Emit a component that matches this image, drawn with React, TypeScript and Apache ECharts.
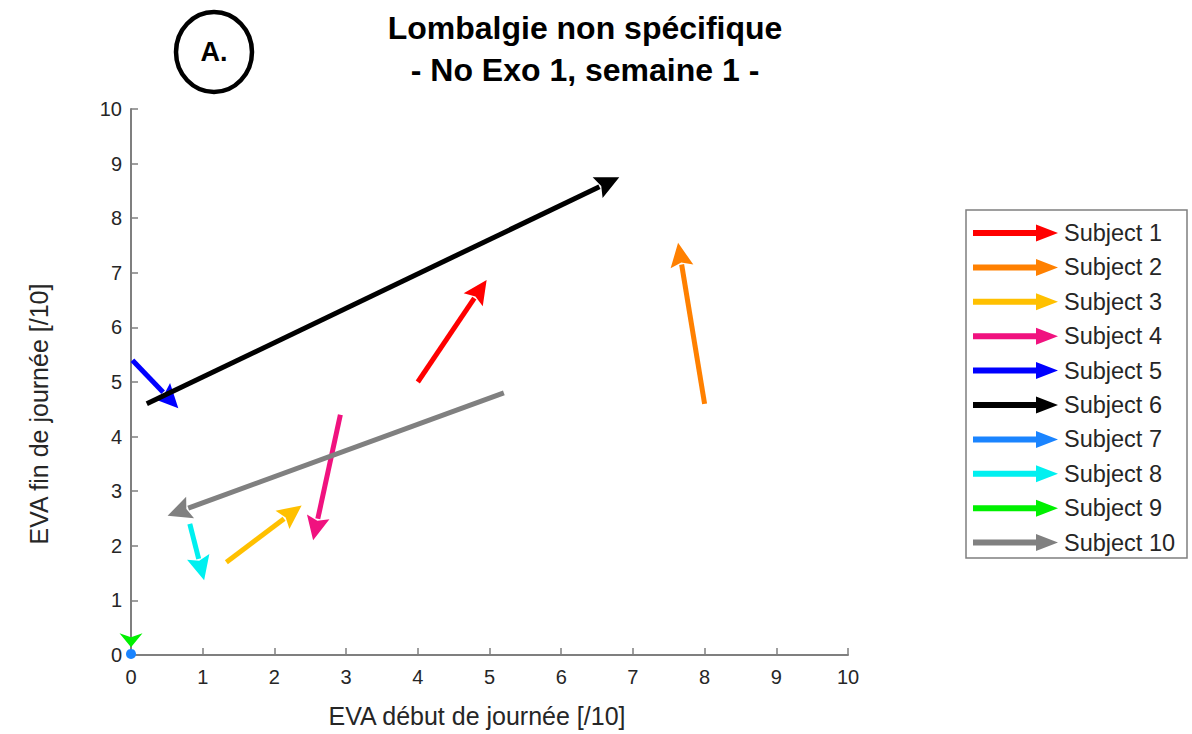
import React, { useEffect, useRef } from "react";
import * as echarts from "echarts";

const subjects = [
  "Subject 1", "Subject 2", "Subject 3", "Subject 4", "Subject 5",
  "Subject 6", "Subject 7", "Subject 8", "Subject 9", "Subject 10",
];
const colors = [
  "#ff0000", "#ff8000", "#ffc000", "#f0127f", "#0000ff",
  "#000000", "#1a84ff", "#00f0f0", "#00f000", "#808080",
];
// EVA start of day (x) / end of day (y): arrow from start point to end point
const startX = [4.0, 8.0, 1.33, 2.92, 0.02, 0.22, 0, 0.82, 0, 5.2];
const startY = [5.0, 4.6, 1.7, 4.4, 5.4, 4.6, 0.02, 2.4, 0.4, 4.8];
const endX = [4.96, 7.63, 2.38, 2.54, 0.66, 6.81, 0, 1.02, 0, 0.51];
const endY = [6.87, 7.55, 2.74, 2.1, 4.52, 8.75, 0.02, 1.37, 0.14, 2.55];
const xTicks = [0, 10, 1];
const titleLines = ["Lombalgie non spécifique", "- No Exo 1, semaine 1 -"];
const xName = "EVA début de journée [/10]";
const yName = "EVA fin de journée [/10]";
const panelLabel = "A.";

const FONT = "Liberation Sans, Arial, Helvetica, sans-serif";

function renderArrow(params: any, api: any) {
  const p1 = api.coord([api.value(0), api.value(1)]);
  const p2 = api.coord([api.value(2), api.value(3)]);
  const color = api.visual("color");
  const dx = p2[0] - p1[0];
  const dy = p2[1] - p1[1];
  const len = Math.sqrt(dx * dx + dy * dy);
  if (len < 1) {
    return {
      type: "circle",
      shape: { cx: p2[0], cy: p2[1], r: 5 },
      style: { fill: color },
    };
  }
  const ux = dx / len;
  const uy = dy / len;
  const headLen = Math.min(24, len);
  const hw = 11.5;
  const bx = p2[0] - ux * headLen;
  const by = p2[1] - uy * headLen;
  const px = -uy;
  const py = ux;
  const children: any[] = [];
  if (len > headLen) {
    children.push({
      type: "line",
      shape: { x1: p1[0], y1: p1[1], x2: bx + ux * 2, y2: by + uy * 2 },
      style: { stroke: color, lineWidth: 5, lineCap: "butt" },
    });
  }
  children.push({
    type: "polygon",
    shape: {
      points: [
        [p2[0], p2[1]],
        [bx + px * hw, by + py * hw],
        [bx + ux * 4, by + uy * 4],
        [bx - px * hw, by - py * hw],
      ],
    },
    style: { fill: color },
  });
  return { type: "group", children };
}

export default function App() {
  const ref = useRef<HTMLDivElement>(null);
  useEffect(() => {
    if (!ref.current) return;
    document.body.style.margin = "0";
    const chart = echarts.init(ref.current, null, { renderer: "svg" });
    const axisCommon = {
      type: "value" as const,
      min: xTicks[0],
      max: xTicks[1],
      interval: xTicks[2],
      axisLine: { show: true, lineStyle: { color: "#7f7f7f", width: 2 } },
      axisTick: { show: true, inside: true, length: 7, lineStyle: { color: "#7f7f7f", width: 1.5 } },
      splitLine: { show: false },
      axisLabel: { color: "#262626", fontSize: 20, fontFamily: FONT },
    };
    chart.setOption({
      animation: false,
      backgroundColor: "#ffffff",
      title: {
        text: titleLines.join("\n"),
        left: 580,
        top: 2,
        textAlign: "center",
        textStyle: { fontSize: 32, fontWeight: "bold", color: "#000", fontFamily: FONT, lineHeight: 42 },
      },
      grid: { left: 131, right: 344, top: 109, bottom: 79 },
      xAxis: {
        ...axisCommon,
        axisLabel: { ...axisCommon.axisLabel, margin: 12 },
      },
      yAxis: {
        ...axisCommon,
        axisLabel: { ...axisCommon.axisLabel, margin: 9 },
      },
      legend: {
        orient: "vertical",
        left: 968,
        top: 216,
        itemWidth: 85,
        itemHeight: 17,
        itemGap: 10.4,
        icon: "path://M0,5.5 L63,5.5 L63,0 L85,8.5 L63,17 L63,11.5 L0,11.5 Z",
        textStyle: { color: "#262626", fontSize: 23.5, fontFamily: FONT, lineHeight: 24, padding: [0, 0, 0, 1] },
        data: subjects,
      },
      graphic: [
        {
          type: "rect",
          shape: { x: 966, y: 210, width: 221, height: 348 },
          style: { fill: "none", stroke: "#7f7f7f", lineWidth: 1.5 },
          silent: true,
        },
        {
          type: "ellipse",
          shape: { cx: 214, cy: 52, rx: 38, ry: 40 },
          style: { fill: "none", stroke: "#000", lineWidth: 4.5 },
        },
        {
          type: "text",
          x: 214,
          y: 52,
          style: {
            text: panelLabel,
            fill: "#000",
            fontSize: 27,
            fontWeight: "bold",
            fontFamily: FONT,
            align: "center",
            verticalAlign: "middle",
          },
        },
        {
          type: "text",
          x: 477,
          y: 716,
          style: {
            text: xName,
            fill: "#262626",
            fontSize: 25,
            fontFamily: FONT,
            align: "center",
            verticalAlign: "middle",
          },
        },
        {
          type: "text",
          x: 39,
          y: 414,
          rotation: Math.PI / 2,
          style: {
            text: yName,
            fill: "#262626",
            fontSize: 25,
            fontFamily: FONT,
            align: "center",
            verticalAlign: "middle",
          },
        },
      ],
      series: subjects.map((name, i) => ({
        type: "custom",
        name,
        renderItem: renderArrow,
        itemStyle: { color: colors[i] },
        encode: { x: [0, 2], y: [1, 3] },
        clip: false,
        data: [[startX[i], startY[i], endX[i], endY[i]]],
      })),
    });
    return () => chart.dispose();
  }, []);
  return <div ref={ref} style={{ width: 1192, height: 734 }} />;
}
